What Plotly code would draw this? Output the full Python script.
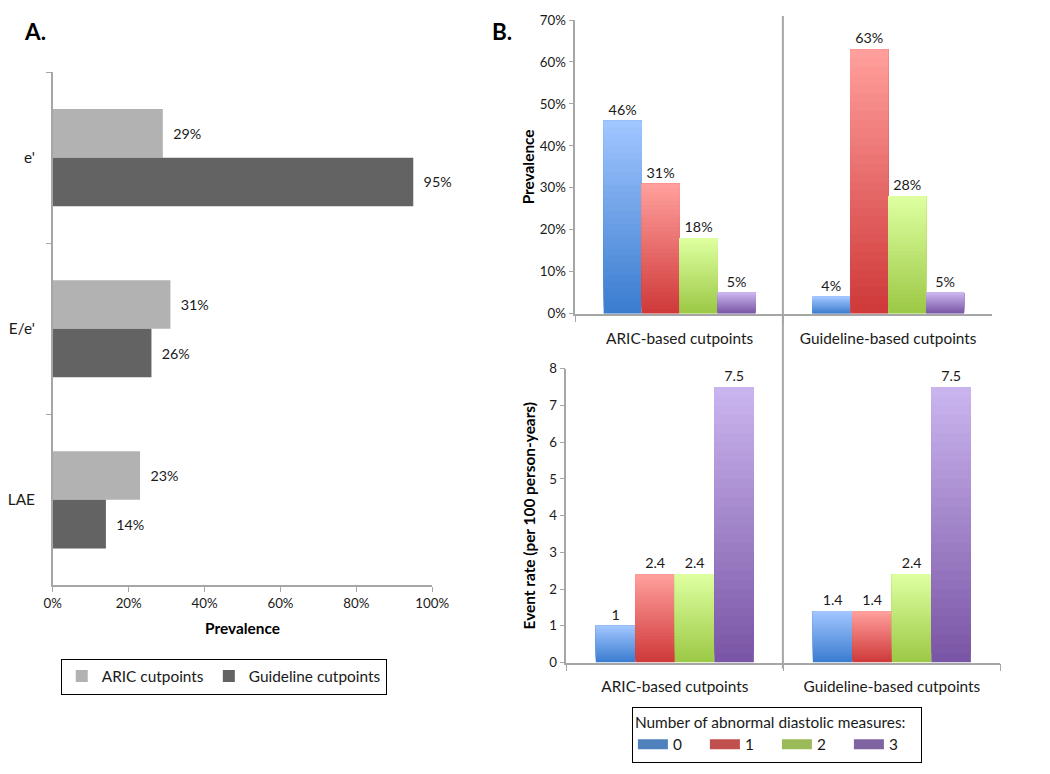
import plotly.graph_objects as go

# ---------------- data ----------------
# Panel A: prevalence of abnormal diastolic measures
a_measures = ["e'", "E/e'", "LAE"]
a_aric = [0.29, 0.31, 0.23]
a_guideline = [0.95, 0.26, 0.14]
a_ticks = [0, 0.2, 0.4, 0.6, 0.8, 1.0]

# Panel B: by number of abnormal diastolic measures
b_groups = ["ARIC-based cutpoints", "Guideline-based cutpoints"]
b_counts = ["0", "1", "2", "3"]
b_prev_0 = [0.46, 0.04]
b_prev_1 = [0.31, 0.63]
b_prev_2 = [0.18, 0.28]
b_prev_3 = [0.05, 0.05]
b_rate_0 = [1.0, 1.4]
b_rate_1 = [2.4, 1.4]
b_rate_2 = [2.4, 2.4]
b_rate_3 = [7.5, 7.5]

b_prev = [b_prev_0, b_prev_1, b_prev_2, b_prev_3]
b_rate = [b_rate_0, b_rate_1, b_rate_2, b_rate_3]

# ---------------- styling ----------------
FW, FH = 1050, 774
K, OFF = 0.977, 16.0      # observed on-screen scale/offset of the page
S = 1 / K
FONT = "Lato"
TXT = "#1a1a1a"
AX = "#a6a6a6"

def fx(p):
    return max(0.0, (p - OFF) / K / FW)

def fy(p):
    return min(1.0, 1 - (p - OFF) / K / FH)

def fs(v):
    return round(v * S, 1)

def hex2rgb(h):
    h = h.lstrip("#")
    return tuple(int(h[i:i + 2], 16) for i in (0, 2, 4))

def mix(c1, c2, t):
    a, b = hex2rgb(c1), hex2rgb(c2)
    return "rgb(%d,%d,%d)" % tuple(round(a[i] + (b[i] - a[i]) * t) for i in range(3))

# gradient (bottom, top) per series, and legend swatch colours
grad = [("#3b7dcf", "#a0c5ff"), ("#cf3a3a", "#ff9e9b"),
        ("#9cc946", "#ddff9f"), ("#7a56a6", "#cab4ee")]
swatch = ["#4f81bd", "#c0504d", "#9bbb59", "#8064a2"]

fig = go.Figure()

# ---------------- Panel A ----------------
bwA = 0.284
NB = "\u00a0\u00a0"
for vals, name, col, off in [(a_aric, "ARIC cutpoints", "#b2b2b2", -bwA),
                             (a_guideline, "Guideline cutpoints", "#636363", 0)]:
    fig.add_trace(go.Bar(
        y=a_measures, x=vals, orientation="h", name=name,
        marker=dict(color=col, line=dict(width=0)),
        offset=off, width=bwA, xaxis="x", yaxis="y",
        texttemplate=NB + "%{x:.0%}", textposition="outside",
        textfont=dict(size=fs(14), color=TXT, family=FONT), cliponaxis=False,
        legend="legend", hoverinfo="skip"))

# ---------------- Panel B (gradient bars) ----------------
N = 30
bwB = 0.182
offsets = [-2 * bwB, -bwB, 0, bwB]

def add_gradient_bars(series, xa, ya, fmt):
    for s, vals in enumerate(series):
        bot, top = grad[s]
        for k in range(N):
            t = k / (N - 1)
            kw = {}
            if k == 0:
                kw = dict(texttemplate=fmt, textposition="outside",
                          textfont=dict(size=fs(14), color=TXT, family=FONT),
                          cliponaxis=False)
            fig.add_trace(go.Bar(
                x=b_groups,
                y=[v * (N - k) / N for v in vals],
                base=[v * k / N for v in vals],
                offset=offsets[s], width=bwB,
                marker=dict(color=mix(bot, top, t), line=dict(width=0)),
                xaxis=xa, yaxis=ya, showlegend=False, hoverinfo="skip", **kw))

add_gradient_bars(b_prev, "x2", "y2", "%{y:.0%}")
add_gradient_bars(b_rate, "x3", "y3", "%{y}")

# legend entries for panel B
for s, lab in enumerate(b_counts):
    fig.add_trace(go.Scatter(
        x=[None], y=[None], mode="lines", name=lab,
        line=dict(color=swatch[s], width=16),
        xaxis="x2", yaxis="y2", legend="legend2", hoverinfo="skip"))

# ---------------- layout ----------------
tickfont = dict(size=fs(13), color=TXT, family=FONT)
common = dict(showline=True, linecolor=AX, linewidth=1.5, ticks="outside",
              tickcolor=AX, ticklen=5, showgrid=False, zeroline=False,
              tickfont=tickfont, fixedrange=True)
catfont = dict(size=fs(15), color=TXT, family=FONT)
titlefont = dict(size=fs(15), family=FONT, color="black")

fig.update_layout(
    width=FW, height=FH,
    margin=dict(l=0, r=0, t=0, b=0),
    paper_bgcolor="white", plot_bgcolor="white",
    font=dict(family=FONT, color=TXT),
    barmode="overlay",
    xaxis=dict(domain=[fx(47), fx(429)], range=[0, 1], tickvals=a_ticks,
               tickformat=".0%", anchor="y",
               title=dict(text="<b>Prevalence</b>", font=titlefont, standoff=13),
               **common),
    yaxis=dict(domain=[fy(584), fy(72)], type="category", range=[2.5, -0.5],
               tickson="boundaries", anchor="x", ticklabelstandoff=13,
               **{**common, "tickfont": catfont}),
    xaxis2=dict(domain=[fx(573), fx(993)], type="category", range=[-0.5, 1.5],
                tickson="boundaries", anchor="y2", ticklabelstandoff=10,
                **{**common, "ticklen": 7, "tickfont": catfont}),
    yaxis2=dict(domain=[fy(313), fy(20)], range=[0, 0.7], dtick=0.1,
                tickformat=".0%", anchor="x2",
                title=dict(text="<b>Prevalence</b>", font=titlefont, standoff=1),
                **common),
    xaxis3=dict(domain=[fx(564), fx(1001)], type="category", range=[-0.5, 1.5],
                tickson="boundaries", anchor="y3", ticklabelstandoff=9,
                **{**common, "ticklen": 7, "tickfont": catfont}),
    yaxis3=dict(domain=[fy(661), fy(368)], range=[0, 8], dtick=1, anchor="x3",
                title=dict(text="<b>Event rate (per 100 person-years)</b>",
                           font=titlefont, standoff=10),
                **common),
    legend=dict(x=fx(55), y=fy(657), xanchor="left", yanchor="top",
                orientation="h", bordercolor="black", borderwidth=1,
                font=dict(size=fs(15), family=FONT, color=TXT)),
    legend2=dict(x=fx(630), y=fy(705), xanchor="left", yanchor="top",
                 orientation="h", bordercolor="black", borderwidth=1,
                 title=dict(text="Number of abnormal diastolic measures:", side="top",
                            font=dict(size=fs(15), family=FONT, color=TXT)),
                 font=dict(size=fs(15), family=FONT, color=TXT),
                 entrywidth=27, entrywidthmode="pixels"),
    shapes=[dict(type="line", xref="paper", yref="paper",
                 x0=fx(782), x1=fx(782), y0=fy(0), y1=fy(667),
                 line=dict(color=AX, width=2))],
    annotations=[
        dict(text="<b>A.</b>", x=fx(0), y=fy(12), xref="paper", yref="paper",
             xanchor="left", yanchor="top", showarrow=False,
             font=dict(size=fs(22), family=FONT, color="black")),
        dict(text="<b>B.</b>", x=fx(487), y=fy(12), xref="paper", yref="paper",
             xanchor="left", yanchor="top", showarrow=False,
             font=dict(size=fs(22), family=FONT, color="black")),
    ],
)

fig.write_html("out.html")
